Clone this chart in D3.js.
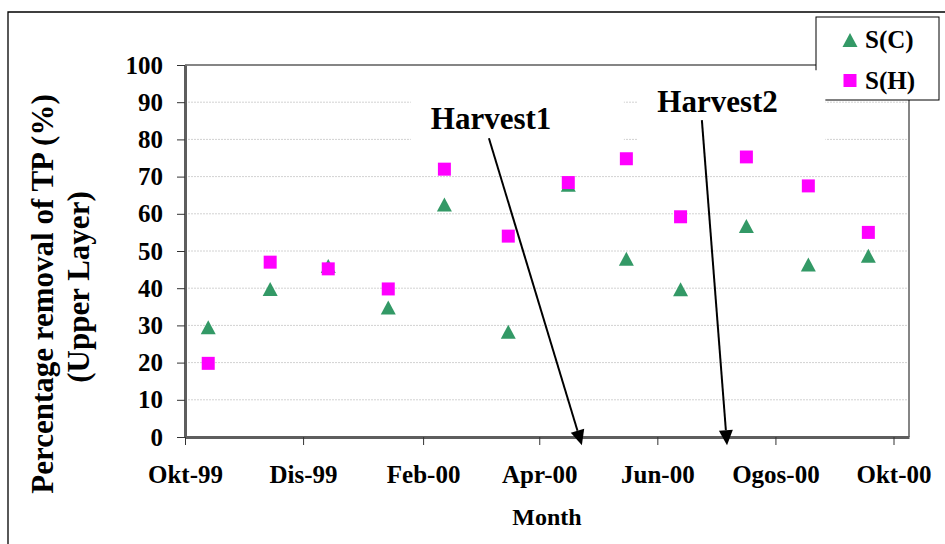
<!DOCTYPE html>
<html>
<head>
<meta charset="utf-8">
<script src="https://cdn.jsdelivr.net/npm/d3@7"></script>
<style>
  body { margin: 0; background: #fff; }
  svg { display: block; font-family: "Liberation Serif", "Times New Roman", serif; font-weight: bold; }
</style>
</head>
<body>
<svg id="chart" width="945" height="544"></svg>
<script>
// sampling dates (one per month) and % removal of TP, upper layer
const sampleDates = ['1999-10-13', '1999-11-14', '1999-12-14', '2000-01-14', '2000-02-12', '2000-03-16',
                     '2000-04-16', '2000-05-16', '2000-06-13', '2000-07-17', '2000-08-18', '2000-09-18'];
const seriesC = [29.5, 39.8, 46.0, 34.8, 62.5, 28.3, 67.8, 47.9, 39.7, 56.7, 46.4, 48.7];
const seriesH = [19.8, 47.0, 45.2, 39.8, 72.0, 54.0, 68.4, 74.8, 59.2, 75.3, 67.5, 55.0];

const xTickDates = ['1999-10-01', '1999-12-01', '2000-02-01', '2000-04-01', '2000-06-01', '2000-08-01', '2000-10-01'];
const xTickLabels = ['Okt-99', 'Dis-99', 'Feb-00', 'Apr-00', 'Jun-00', 'Ogos-00', 'Okt-00'];
const yTicks = [0, 10, 20, 30, 40, 50, 60, 70, 80, 90, 100];

const seriesNames = ['S(C)', 'S(H)'];

// harvest annotations, anchored in data space
const harvests = [
  { label: 'Harvest1', textDate: '2000-02-05', textValue: 82.8, fromDate: '2000-03-06', fromValue: 80.3, toDate: '2000-04-23', toValue: -2.2 },
  { label: 'Harvest2', textDate: '2000-06-01', textValue: 87.3, fromDate: '2000-06-24', fromValue: 85.2, toDate: '2000-07-07', toValue: -2.2 }
];

const dims = { left: 185, right: 909, top: 65, bottom: 437 };
const serif = '"Liberation Serif", "Times New Roman", serif';
const parse = d3.utcParse('%Y-%m-%d');

const svg = d3.select('#chart');

const x = d3.scaleUtc()
  .domain([parse('1999-10-01'), parse('2000-10-09')])
  .range([dims.left, dims.right]);
const y = d3.scaleLinear()
  .domain([0, 100])
  .range([dims.bottom, dims.top]);

// outer frame (only top/left visible)
svg.append('path')
  .attr('d', 'M8,544V12H945')
  .attr('fill', 'none')
  .attr('stroke', '#000')
  .attr('stroke-width', 1.3);

// gridlines
svg.append('g')
  .selectAll('line')
  .data(yTicks.filter(t => t > 0 && t < 100))
  .join('line')
  .attr('x1', dims.left).attr('x2', dims.right)
  .attr('y1', d => y(d)).attr('y2', d => y(d))
  .attr('stroke', '#d2d2d2')
  .attr('stroke-dasharray', '2,1');

// top & right plot border
svg.append('path')
  .attr('d', `M${dims.left},${dims.top}H${dims.right}V${dims.bottom}`)
  .attr('fill', 'none')
  .attr('stroke', '#858585')
  .attr('stroke-width', 2);

// axes
const yAxis = d3.axisLeft(y).tickValues(yTicks).tickSize(8).tickPadding(14).tickSizeOuter(0);
const xAxis = d3.axisBottom(x)
  .tickValues(xTickDates.map(parse))
  .tickFormat((d, i) => xTickLabels[i])
  .tickSize(8).tickPadding(20).tickSizeOuter(0);

const gy = svg.append('g').attr('transform', `translate(${dims.left},0)`).call(yAxis);
const gx = svg.append('g').attr('transform', `translate(0,${dims.bottom})`).call(xAxis);

[gx, gy].forEach(g => {
  g.attr('font-family', serif).attr('font-size', 25).attr('font-weight', 'bold');
  g.select('.domain').attr('stroke', '#5e5e5e').attr('stroke-width', 3);
  g.selectAll('.tick line').attr('stroke', '#333');
  g.selectAll('.tick text').attr('fill', '#000');
});

// axis titles
svg.append('text')
  .attr('x', (dims.left + dims.right) / 2)
  .attr('y', 525)
  .attr('text-anchor', 'middle')
  .style('font-size', '24px')
  .text('Month');

svg.append('text')
  .attr('transform', 'translate(53,294) rotate(-90)')
  .attr('text-anchor', 'middle')
  .style('font-size', '31px')
  .text('Percentage removal of TP (%)');
svg.append('text')
  .attr('transform', 'translate(89,287) rotate(-90)')
  .attr('text-anchor', 'middle')
  .style('font-size', '31px')
  .text('(Upper Layer)');

// markers
const triangle = 'M0,-7L7.5,7L-7.5,7Z';
const square = 'M-6.5,-6.5H6.5V6.5H-6.5Z';
const green = '#339966';
const magenta = '#ff00ff';

const data = sampleDates.map((d, i) => ({ date: parse(d), c: seriesC[i], h: seriesH[i] }));

svg.append('g')
  .selectAll('path')
  .data(data)
  .join('path')
  .attr('d', triangle)
  .attr('transform', d => `translate(${x(d.date)},${y(d.c)})`)
  .attr('fill', green);

svg.append('g')
  .selectAll('path')
  .data(data)
  .join('path')
  .attr('d', square)
  .attr('transform', d => `translate(${x(d.date)},${y(d.h)})`)
  .attr('fill', magenta);

// legend
const legend = svg.append('g');
legend.append('rect')
  .attr('x', 816).attr('y', 17)
  .attr('width', 123).attr('height', 83)
  .attr('fill', '#fff')
  .attr('stroke', '#000');
[triangle, square].forEach((sym, i) => {
  const cy = 40 + i * 40.5;
  legend.append('path')
    .attr('d', sym)
    .attr('transform', `translate(850,${cy})`)
    .attr('fill', i === 0 ? green : magenta);
  legend.append('text')
    .attr('x', 865)
    .attr('y', cy + 8)
    .style('font-size', '25px')
    .text(seriesNames[i]);
});

// harvest annotations: white text boxes, arrow, label
const boxes = [
  { dx: -20, dy: -37, w: 213, h: 60 },
  { dx: -20, dy: -42, w: 188, h: 80 }
];

harvests.forEach((a, i) => {
  const tx = x(parse(a.textDate)), ty = y(a.textValue);
  const b = boxes[i];
  svg.append('rect')
    .attr('x', tx + b.dx).attr('y', ty + b.dy)
    .attr('width', b.w).attr('height', b.h)
    .attr('fill', '#fff');

  const x1 = x(parse(a.fromDate)), y1 = y(a.fromValue);
  const x2 = x(parse(a.toDate)), y2 = y(a.toValue);
  const ang = Math.atan2(y2 - y1, x2 - x1);
  const len = 15, half = 7;
  const bx = x2 - len * Math.cos(ang), by = y2 - len * Math.sin(ang);

  svg.append('line')
    .attr('x1', x1).attr('y1', y1)
    .attr('x2', bx).attr('y2', by)
    .attr('stroke', '#000')
    .attr('stroke-width', 2);

  svg.append('path')
    .attr('d', `M${x2},${y2}L${bx - half * Math.sin(ang)},${by + half * Math.cos(ang)}L${bx + half * Math.sin(ang)},${by - half * Math.cos(ang)}Z`)
    .attr('fill', '#000');

  svg.append('text')
    .attr('x', tx)
    .attr('y', ty)
    .style('font-size', '31px')
    .text(a.label);
});
</script>
</body>
</html>
